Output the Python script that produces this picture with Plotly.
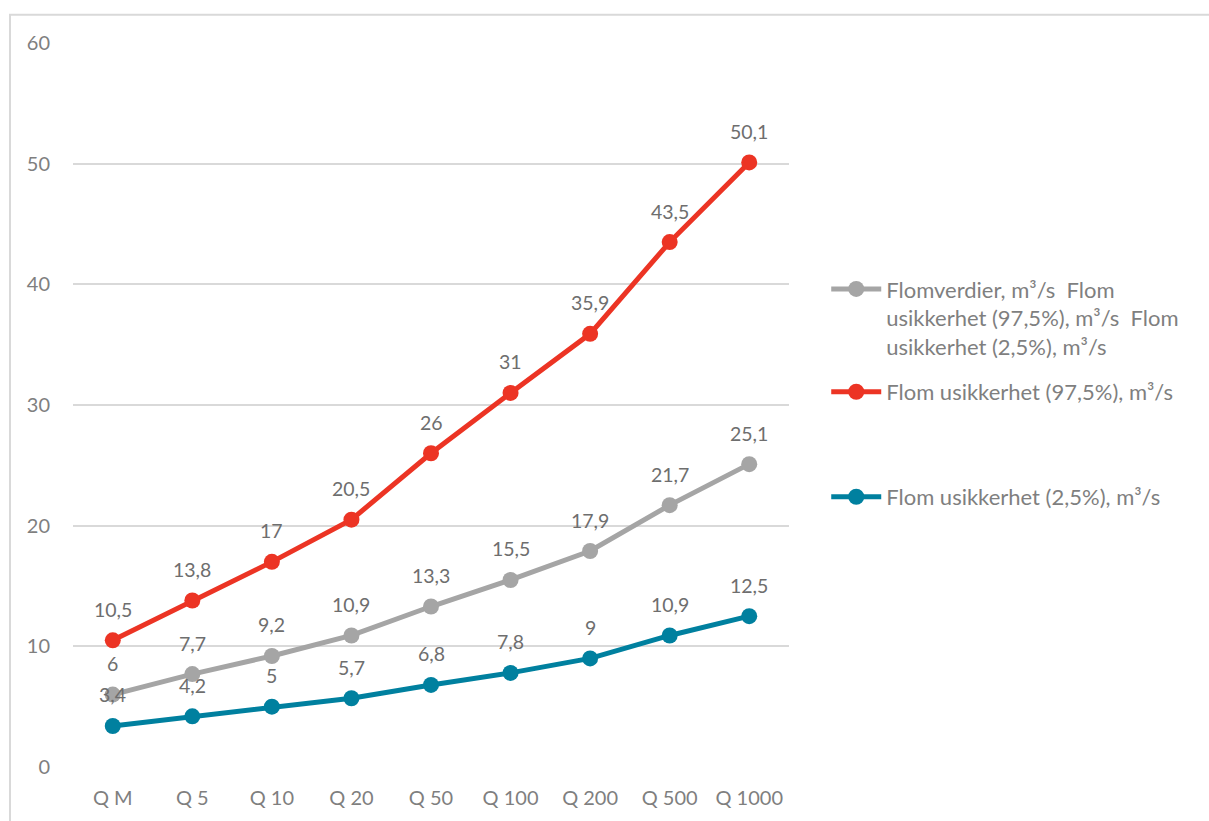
import plotly.graph_objects as go

# Return periods on the x axis
categories = ["Q M", "Q 5", "Q 10", "Q 20", "Q 50", "Q 100", "Q 200", "Q 500", "Q 1000"]

# Flood values (m³/s)
flomverdier = [6, 7.7, 9.2, 10.9, 13.3, 15.5, 17.9, 21.7, 25.1]
usikkerhet_975 = [10.5, 13.8, 17, 20.5, 26, 31, 35.9, 43.5, 50.1]
usikkerhet_025 = [3.4, 4.2, 5, 5.7, 6.8, 7.8, 9, 10.9, 12.5]

y_ticks = [0, 10, 20, 30, 40, 50, 60]

FONT = "Lato, 'Open Sans', sans-serif"
TEXT_GRAY = "#7F7F7F"
LABEL_GRAY = "#6E6E6E"

series = [
    ("Flomverdier, m³/s  Flom<br>usikkerhet (97,5%), m³/s  Flom<br>usikkerhet (2,5%), m³/s",
     flomverdier, "#A5A5A5", "legend", 0.689),
    ("Flom usikkerhet (97,5%), m³/s", usikkerhet_975, "#EC3424", "legend2", 0.547),
    ("Flom usikkerhet (2,5%), m³/s", usikkerhet_025, "#00809F", "legend3", 0.402),
]


def fmt(v):
    s = f"{v:g}"
    return s.replace(".", ",")


fig = go.Figure()
annotations = []
legends = {}
for name, values, color, leg, ly in series:
    fig.add_trace(go.Scatter(
        x=categories, y=values, mode="lines+markers", name=name,
        line=dict(color=color, width=5),
        marker=dict(color=color, size=16),
        legend=leg,
    ))
    for c, v in zip(categories, values):
        annotations.append(dict(
            x=c, y=v, xref="x", yref="y", text=fmt(v), showarrow=False,
            yshift=31, font=dict(family=FONT, size=19.5, color=LABEL_GRAY),
        ))
    legends[leg] = dict(
        x=1.052, y=ly, xanchor="left", yanchor="top",
        bgcolor="rgba(0,0,0,0)", valign="top", itemwidth=50,
        font=dict(family=FONT, size=22, color=TEXT_GRAY),
        tracegroupgap=0, itemclick=False,
    )

fig.update_layout(
    width=1209, height=821,
    margin=dict(l=73, r=420, t=43, b=52),
    paper_bgcolor="white", plot_bgcolor="white",
    font=dict(family=FONT, size=20, color=TEXT_GRAY),
    showlegend=True,
    annotations=annotations,
    shapes=[dict(
        type="rect", xref="paper", yref="paper",
        x0=-0.088, x1=1.7, y0=-0.3, y1=1.039,
        line=dict(color="#D9D9D9", width=2), fillcolor="rgba(0,0,0,0)",
        layer="below",
    )],
    **legends,
)

fig.update_xaxes(
    type="category", range=[-0.5, 8.5], showgrid=False, showline=False,
    zeroline=False, ticks="", ticklabelstandoff=17,
    tickfont=dict(family=FONT, size=20, color=TEXT_GRAY),
)
fig.update_yaxes(
    range=[0, 60], tickvals=y_ticks, showgrid=True, gridcolor="#D9D9D9",
    gridwidth=1.5, zeroline=False, showline=False, ticks="",
    ticklabelstandoff=22,
    tickfont=dict(family=FONT, size=20, color=TEXT_GRAY),
)

fig.write_html("out.html")
